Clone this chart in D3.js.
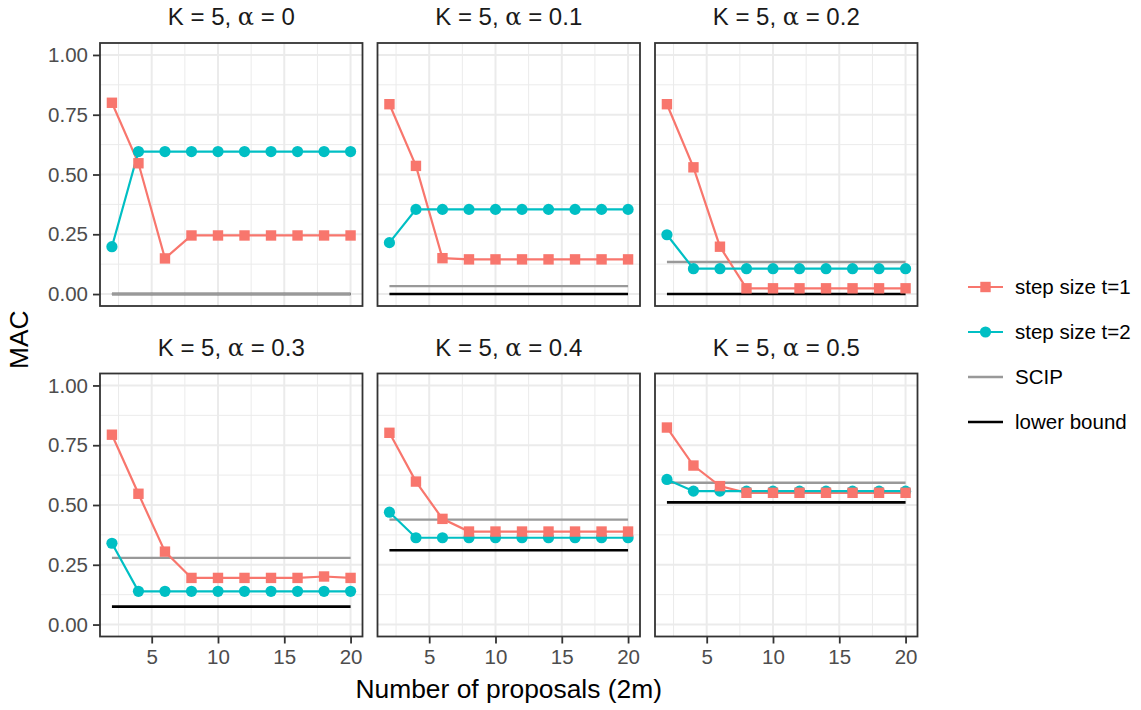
<!DOCTYPE html>
<html>
<head>
<meta charset="utf-8">
<script src="https://cdn.jsdelivr.net/npm/d3@7"></script>
<style>
  body { margin: 0; background: #fff; }
  svg { font-family: "Liberation Sans", Arial, Helvetica, sans-serif; }
  .tick text { fill: #4d4d4d; font-size: 20.5px; }
  .tick line { stroke: #333333; stroke-width: 1.8px; }
  .domain { display: none; }
</style>
</head>
<body>
<div class="container"></div>
<script>
const width = 1141,
    height = 710;

// data
const proposals = [2, 4, 6, 8, 10, 12, 14, 16, 18, 20];
const alphas = ["0", "0.1", "0.2", "0.3", "0.4", "0.5"];
const stepSize1 = [
  [0.800, 0.547, 0.149, 0.245, 0.245, 0.245, 0.245, 0.245, 0.245, 0.245],
  [0.794, 0.536, 0.150, 0.145, 0.145, 0.145, 0.145, 0.145, 0.145, 0.145],
  [0.794, 0.530, 0.198, 0.024, 0.024, 0.024, 0.024, 0.024, 0.024, 0.024],
  [0.794, 0.547, 0.305, 0.195, 0.195, 0.195, 0.195, 0.195, 0.201, 0.195],
  [0.802, 0.598, 0.442, 0.389, 0.389, 0.389, 0.389, 0.389, 0.389, 0.389],
  [0.824, 0.665, 0.579, 0.551, 0.551, 0.551, 0.551, 0.551, 0.551, 0.551]
];
const stepSize2 = [
  [0.198, 0.596, 0.596, 0.596, 0.596, 0.596, 0.596, 0.596, 0.596, 0.596],
  [0.215, 0.354, 0.354, 0.354, 0.354, 0.354, 0.354, 0.354, 0.354, 0.354],
  [0.248, 0.106, 0.106, 0.106, 0.106, 0.106, 0.106, 0.106, 0.106, 0.106],
  [0.340, 0.139, 0.139, 0.139, 0.139, 0.139, 0.139, 0.139, 0.139, 0.139],
  [0.470, 0.363, 0.363, 0.363, 0.363, 0.363, 0.363, 0.363, 0.363, 0.363],
  [0.607, 0.558, 0.558, 0.558, 0.558, 0.558, 0.558, 0.558, 0.558, 0.558]
];
const scip = [0.000, 0.033, 0.134, 0.279, 0.439, 0.593];
const lowerBound = [0.000, 0.000, 0.000, 0.075, 0.311, 0.511];
const yTicks = [0, 0.25, 0.5, 0.75, 1];
const yMinor = [0.125, 0.375, 0.625, 0.875];
const xTicks = [5, 10, 15, 20];
const xMinor = [2.5, 7.5, 12.5, 17.5];
const legendLabels = ["step size t=1", "step size t=2", "SCIP", "lower bound"];

const red = "#F8766D", teal = "#00BFC4", grey = "#999999";

const panelLefts = [100, 377.5, 655],
    panelTops = [43, 373.5],
    panelW = 262.5,
    panelH = 263;

const svg = d3.select(".container")
  .append("svg")
  .attr("width", width)
  .attr("height", height);

const drawPanel = (i) => {
  const col = i % 3, row = Math.floor(i / 3);
  const left = panelLefts[col], top = panelTops[row];

  const x = d3.scaleLinear().domain([1.1, 20.9]).range([left, left + panelW]);
  const y = d3.scaleLinear().domain([-0.05, 1.05]).range([top + panelH, top]);

  const g = svg.append("g");

  // minor grid
  g.selectAll(".ymin").data(yMinor).enter().append("line")
    .attr("x1", left).attr("x2", left + panelW)
    .attr("y1", d => y(d)).attr("y2", d => y(d))
    .attr("stroke", "#ebebeb").attr("stroke-width", 1);
  g.selectAll(".xmin").data(xMinor).enter().append("line")
    .attr("y1", top).attr("y2", top + panelH)
    .attr("x1", d => x(d)).attr("x2", d => x(d))
    .attr("stroke", "#ebebeb").attr("stroke-width", 1);
  // major grid
  g.selectAll(".ymaj").data(yTicks).enter().append("line")
    .attr("x1", left).attr("x2", left + panelW)
    .attr("y1", d => y(d)).attr("y2", d => y(d))
    .attr("stroke", "#ebebeb").attr("stroke-width", 2);
  g.selectAll(".xmaj").data(xTicks).enter().append("line")
    .attr("y1", top).attr("y2", top + panelH)
    .attr("x1", d => x(d)).attr("x2", d => x(d))
    .attr("stroke", "#ebebeb").attr("stroke-width", 2);

  // reference segments
  g.append("line")
    .attr("x1", x(proposals[0])).attr("x2", x(proposals[proposals.length - 1]))
    .attr("y1", y(lowerBound[i])).attr("y2", y(lowerBound[i]))
    .attr("stroke", "#000").attr("stroke-width", 2.6);
  g.append("line")
    .attr("x1", x(proposals[0])).attr("x2", x(proposals[proposals.length - 1]))
    .attr("y1", y(scip[i])).attr("y2", y(scip[i]))
    .attr("stroke", grey).attr("stroke-width", 2.4);

  const line = d3.line().x((d, j) => x(proposals[j])).y(d => y(d));

  g.append("path").datum(stepSize1[i])
    .attr("d", line).attr("fill", "none")
    .attr("stroke", red).attr("stroke-width", 2.2);
  g.append("path").datum(stepSize2[i])
    .attr("d", line).attr("fill", "none")
    .attr("stroke", teal).attr("stroke-width", 2.2);

  g.selectAll(".pt2").data(stepSize2[i]).enter().append("circle")
    .attr("cx", (d, j) => x(proposals[j]))
    .attr("cy", d => y(d))
    .attr("r", 5.6)
    .attr("fill", teal);
  g.selectAll(".pt1").data(stepSize1[i]).enter().append("rect")
    .attr("x", (d, j) => x(proposals[j]) - 5.2)
    .attr("y", d => y(d) - 5.2)
    .attr("width", 10.4).attr("height", 10.4)
    .attr("fill", red);

  // border
  g.append("rect")
    .attr("x", left).attr("y", top)
    .attr("width", panelW).attr("height", panelH)
    .attr("fill", "none").attr("stroke", "#333333").attr("stroke-width", 1.8);

  // strip title
  const title = g.append("text")
    .attr("x", left + panelW / 2)
    .attr("y", top - 18)
    .attr("text-anchor", "middle")
    .attr("fill", "#1a1a1a")
    .style("font-size", "24px");
  title.append("tspan").text("K = 5, ");
  title.append("tspan").text("α").style("font-family", "'DejaVu Serif', serif").style("font-style", "normal");
  title.append("tspan").text(" = " + alphas[i]);

  if (col === 0) {
    svg.append("g")
      .attr("transform", `translate(${left},0)`)
      .call(d3.axisLeft(y).tickValues(yTicks).tickFormat(d3.format(".2f")).tickSize(7).tickPadding(5));
  }
  if (row === 1) {
    svg.append("g")
      .attr("transform", `translate(0,${top + panelH})`)
      .call(d3.axisBottom(x).tickValues(xTicks).tickSize(7).tickPadding(6));
  }
};

alphas.forEach((a, i) => drawPanel(i));

// axis titles
svg.append("text")
  .attr("x", (panelLefts[0] + panelLefts[2] + panelW) / 2)
  .attr("y", 698)
  .attr("text-anchor", "middle")
  .style("font-size", "26.4px")
  .text("Number of proposals (2m)");

svg.append("text")
  .attr("transform", `translate(28, ${(panelTops[0] + panelTops[1] + panelH) / 2}) rotate(-90)`)
  .attr("text-anchor", "middle")
  .style("font-size", "26.4px")
  .text("MAC");

// legend
const legendRows = [287, 332, 377, 422];
const legend = svg.append("g");
legendLabels.forEach((lab, k) => {
  const cy = legendRows[k];
  const col = [red, teal, grey, "#000"][k];
  legend.append("line")
    .attr("x1", 968).attr("x2", 1003)
    .attr("y1", cy).attr("y2", cy)
    .attr("stroke", col).attr("stroke-width", k > 1 ? 2.5 : 2.2);
  if (k === 0) {
    legend.append("rect").attr("x", 985.5 - 5.2).attr("y", cy - 5.2)
      .attr("width", 10.4).attr("height", 10.4).attr("fill", red);
  } else if (k === 1) {
    legend.append("circle").attr("cx", 985.5).attr("cy", cy).attr("r", 5.6).attr("fill", teal);
  }
  legend.append("text")
    .attr("x", 1015).attr("y", cy)
    .attr("dy", "0.35em")
    .style("font-size", "20.5px")
    .text(lab);
});
</script>
</body>
</html>
